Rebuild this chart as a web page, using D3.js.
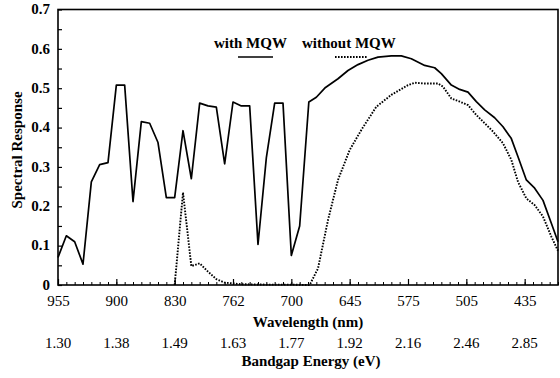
<!DOCTYPE html>
<html>
<head>
<meta charset="utf-8">
<script src="https://cdn.jsdelivr.net/npm/d3@7"></script>
<style>
  body { margin: 0; background: #fff; }
  svg text { font-family: "Liberation Serif", "Times New Roman", serif; fill: #000; }
</style>
</head>
<body>
<svg id="chart" width="560" height="378"></svg>
<script>
// wavelength axis is drawn on measurement index (one minor tick per point)
var waveLabels = ["955", "900", "830", "762", "700", "645", "575", "505", "435"];
var energyLabels = ["1.30", "1.38", "1.49", "1.63", "1.77", "1.92", "2.16", "2.46", "2.85"];
var majorIdx = [0, 7, 14, 21, 28, 35, 42, 49, 56];

var withX = [0,1,2,3,4,5,6,7,8,9,10,11,12,13,14,15,16,17,18,19,20,21,22,23,24,25,26,27,28,29,
  30.1,31,32.1,33.6,34.8,36,37.2,38.4,40,41.2,42.4,44,45.2,46,47.2,48.2,49.2,50.2,51.2,52.4,53.4,54.4,55.2,56.2,57.2,58.2,59.2,60];
var withY = [0.07,0.125,0.11,0.053,0.262,0.306,0.311,0.508,0.508,0.212,0.415,0.411,0.362,0.222,0.222,0.392,0.27,0.462,0.455,0.452,0.308,0.465,0.455,0.455,0.103,0.323,0.462,0.462,0.075,0.15,
  0.465,0.477,0.502,0.524,0.545,0.56,0.571,0.579,0.582,0.582,0.575,0.558,0.552,0.537,0.508,0.497,0.49,0.466,0.445,0.425,0.402,0.372,0.326,0.267,0.246,0.215,0.157,0.11];

var withoutX = [14,15,16,17,18,19,20,22,25,28,30.2,31.2,32.4,33.6,35,36.4,38.2,40,42,42.8,44,45.6,46.2,47.2,48.2,49.2,50.2,51.2,52.2,53.4,54.4,55.2,56.2,57.2,58.2,59.2,60];
var withoutY = [0,0.235,0.048,0.055,0.034,0.015,0.006,0.002,0.001,0.001,0,0.042,0.165,0.267,0.343,0.394,0.453,0.483,0.508,0.514,0.512,0.512,0.504,0.474,0.466,0.457,0.432,0.411,0.39,0.36,0.318,0.262,0.22,0.203,0.174,0.123,0.087];

var svg = d3.select("#chart");
var plotL = 58, plotR = 558, plotT = 9.5, plotB = 285;

var x = d3.scaleLinear().domain([0, 60]).range([plotL, plotR]);
var y = d3.scaleLinear().domain([0, 0.7]).range([plotB, plotT]);

// frame
svg.append("rect")
  .attr("x", plotL).attr("y", plotT)
  .attr("width", plotR - plotL).attr("height", plotB - plotT)
  .attr("fill", "none").attr("stroke", "#000").attr("stroke-width", 1.6);

// bottom axis: minor ticks then major ticks with labels
var minorAxis = d3.axisBottom(x).tickValues(d3.range(0, 61)).tickSize(-3).tickFormat("");
svg.append("g").attr("transform", "translate(0," + plotB + ")").call(minorAxis)
  .call(g => g.select(".domain").remove());

var majorAxis = d3.axisBottom(x).tickValues(majorIdx).tickSize(-6)
  .tickFormat((d, i) => waveLabels[i]);
var gx = svg.append("g").attr("transform", "translate(0," + plotB + ")").call(majorAxis);
gx.select(".domain").remove();
gx.selectAll("text").attr("y", 0).attr("dy", 0).attr("transform", "translate(0,21)")
  .style("font-size", "15px").style("font-family", "Liberation Serif");

svg.append("g").selectAll("text").data(majorIdx).join("text")
  .attr("x", d => x(d)).attr("y", 348)
  .attr("text-anchor", "middle").style("font-size", "15px")
  .text((d, i) => energyLabels[i]);

// left axis
var yAxis = d3.axisLeft(y).tickValues(d3.range(0, 0.701, 0.05)).tickSize(-4)
  .tickPadding(8)
  .tickFormat(d => (Math.round(d * 100) % 10 === 0) ? (d === 0 ? "0" : d3.format(".1f")(d)) : "");
var gy = svg.append("g").attr("transform", "translate(" + plotL + ",0)").call(yAxis);
gy.select(".domain").remove();
gy.selectAll("text").style("font-size", "15px").style("font-weight", "bold")
  .style("font-family", "Liberation Serif").attr("dy", "0.28em");
gy.selectAll(".tick line").attr("stroke-width", 1.2);
gx.selectAll(".tick line").attr("stroke-width", 1.2);

// axis titles
svg.append("text").attr("x", 308).attr("y", 327).attr("text-anchor", "middle")
  .style("font-size", "15px").style("font-weight", "bold").text("Wavelength (nm)");
svg.append("text").attr("x", 311).attr("y", 366).attr("text-anchor", "middle")
  .style("font-size", "15px").style("font-weight", "bold").text("Bandgap Energy (eV)");
svg.append("text").attr("transform", "translate(22,150) rotate(-90)").attr("text-anchor", "middle")
  .style("font-size", "15px").style("font-weight", "bold").text("Spectral Response");

// curves
var line = d3.line().x(d => x(d[0])).y(d => y(d[1]));

svg.append("path").datum(withX.map((d, i) => [d, withY[i]]))
  .attr("d", line).attr("fill", "none").attr("stroke", "#000")
  .attr("stroke-width", 1.7).attr("stroke-linejoin", "round");

svg.append("path").datum(withoutX.map((d, i) => [d, withoutY[i]]))
  .attr("d", line).attr("fill", "none").attr("stroke", "#000")
  .attr("stroke-width", 1.9).attr("stroke-dasharray", "1.6,1.4");

// legend
svg.append("text").attr("x", 214).attr("y", 48).attr("text-anchor", "start")
  .style("font-size", "15px").style("font-weight", "bold").text("with MQW");
svg.append("text").attr("x", 302).attr("y", 48).attr("text-anchor", "start")
  .style("font-size", "15px").style("font-weight", "bold").text("without MQW");
svg.append("line").attr("x1", 238).attr("x2", 273).attr("y1", 57).attr("y2", 57)
  .attr("stroke", "#000").attr("stroke-width", 1.7);
svg.append("line").attr("x1", 335).attr("x2", 368).attr("y1", 57).attr("y2", 57)
  .attr("stroke", "#000").attr("stroke-width", 1.9).attr("stroke-dasharray", "1.6,1.4");
</script>
</body>
</html>
